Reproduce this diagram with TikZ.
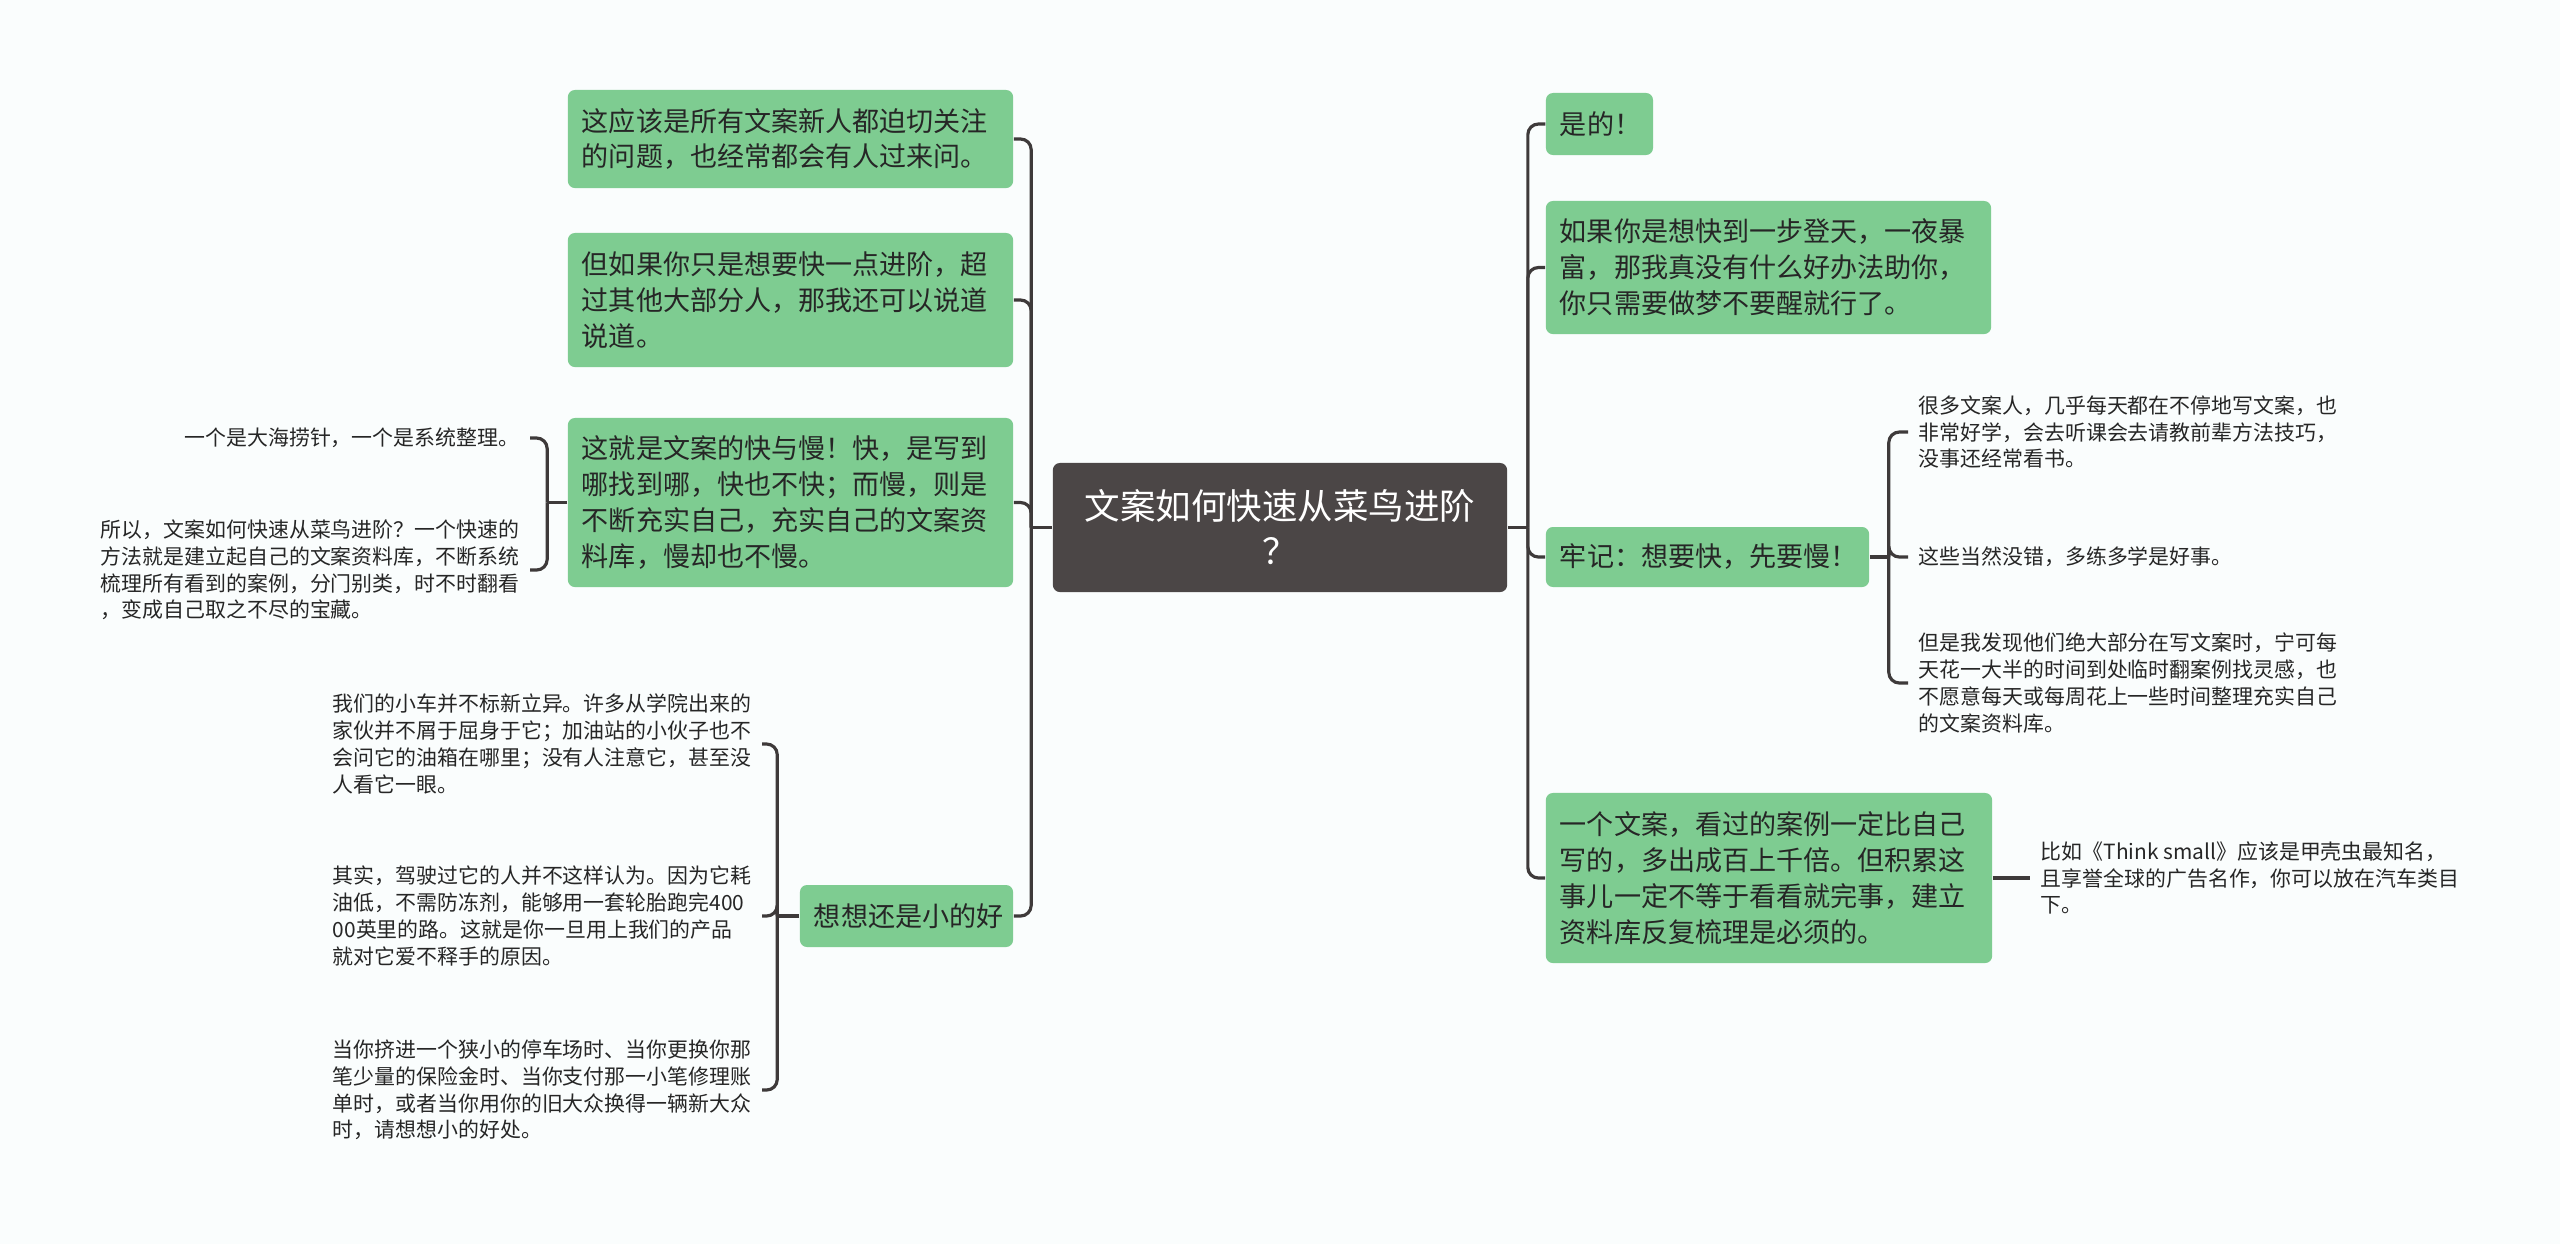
\documentclass[tikz,border=0pt]{standalone}
\usepackage{fontspec}
\setmainfont{Noto Sans CJK SC}
\usetikzlibrary{positioning, calc}
\definecolor{leafgreen}{RGB}{126,204,145}
\definecolor{rootgray}{RGB}{75,70,70}
\definecolor{linegray}{RGB}{62,58,58}
\definecolor{paper}{RGB}{250,253,253}
\tikzset{
  root/.style={rectangle, fill=rootgray, rounded corners=2pt,
               text=white, align=center,
               minimum width=4.54cm, minimum height=1.29cm,
               font=\fontsize{10.1pt}{12.8pt}\selectfont},
  sub/.style={rectangle, fill=leafgreen, rounded corners=2pt,
              align=left, inner xsep=0.14cm, text=black!85,
              font=\fontsize{7.7pt}{10.2pt}\selectfont},
  note/.style={align=left, inner xsep=0.1cm, text=black!85,
               font=\fontsize{5.95pt}{7.6pt}\selectfont},
  link/.style={draw=linegray, line width=0.9pt, rounded corners=3pt},
}

\begin{document}
\begin{tikzpicture}[x=0.01cm, y=-0.01cm]
  \fill[paper] (0,0) rectangle (2560,1244);
  \useasboundingbox (0,0) rectangle (2560,1244);

  \node[root] (root) at (1280,527.5) {文案如何快速从菜鸟进阶\\？};

  % left branches
  \node[sub, text width=4.17cm, minimum height=0.98cm] (ask) at (790.5,139)
    {这应该是所有文案新人都迫切关注\\的问题，也经常都会有人过来问。};
  \node[sub, text width=4.17cm, minimum height=1.34cm] (howto) at (790.5,300)
    {但如果你只是想要快一点进阶，超\\过其他大部分人，那我还可以说道\\说道。};
  \node[sub, text width=4.17cm, minimum height=1.69cm] (fastslow) at (790.5,502.5)
    {这就是文案的快与慢！快，是写到\\哪找到哪，快也不快；而慢，则是\\不断充实自己，充实自己的文案资\\料库，慢却也不慢。};
  \node[sub, text width=1.85cm, minimum height=0.62cm] (small) at (906.5,916)
    {想想还是小的好};

  % right branches
  \node[sub, text width=0.79cm, minimum height=0.62cm] (yes) at (1599.5,124)
    {是的！};
  \node[sub, text width=4.17cm, minimum height=1.33cm] (dream) at (1768.5,267.5)
    {如果你是想快到一步登天，一夜暴\\富，那我真没有什么好办法助你，\\你只需要做梦不要醒就行了。};
  \node[sub, text width=2.95cm, minimum height=0.60cm] (slow) at (1707.5,557)
    {牢记：想要快，先要慢！};
  \node[sub, text width=4.18cm, minimum height=1.70cm] (library) at (1769,878)
    {一个文案，看过的案例一定比自己\\写的，多出成百上千倍。但积累这\\事儿一定不等于看看就完事，建立\\资料库反复梳理是必须的。};

  % notes
  \node[note, anchor=east] (needle) at (530,438)
    {一个是大海捞针，一个是系统整理。};
  \node[note, anchor=east] (method) at (530,570)
    {所以，文案如何快速从菜鸟进阶？一个快速的\\方法就是建立起自己的文案资料库，不断系统\\梳理所有看到的案例，分门别类，时不时翻看\\，变成自己取之不尽的宝藏。};
  \node[note, anchor=east] (nobody) at (762,744)
    {我们的小车并不标新立异。许多从学院出来的\\家伙并不屑于屈身于它；加油站的小伙子也不\\会问它的油箱在哪里；没有人注意它，甚至没\\人看它一眼。};
  \node[note, anchor=east] (economy) at (762,916)
    {其实，驾驶过它的人并不这样认为。因为它耗\\油低，不需防冻剂，能够用一套轮胎跑完400\\00英里的路。这就是你一旦用上我们的产品\\就对它爱不释手的原因。};
  \node[note, anchor=east] (parking) at (762,1090)
    {当你挤进一个狭小的停车场时、当你更换你那\\笔少量的保险金时、当你支付那一小笔修理账\\单时，或者当你用你的旧大众换得一辆新大众\\时，请想想小的好处。};
  \node[note, anchor=west] (study) at (1908,432)
    {很多文案人，几乎每天都在不停地写文案，也\\非常好学，会去听课会去请教前辈方法技巧，\\没事还经常看书。};
  \node[note, anchor=west] (fine) at (1908,557)
    {这些当然没错，多练多学是好事。};
  \node[note, anchor=west] (busy) at (1908,683)
    {但是我发现他们绝大部分在写文案时，宁可每\\天花一大半的时间到处临时翻案例找灵感，也\\不愿意每天或每周花上一些时间整理充实自己\\的文案资料库。};
  \node[note, anchor=west] (thinksmall) at (2030,878)
    {比如《Think small》应该是甲壳虫最知名，\\且享誉全球的广告名作，你可以放在汽车类目\\下。};

  % connectors
  \coordinate (jl) at ($(root.west)+(-21,0)$);
  \coordinate (jr) at ($(root.east)+(20,0)$);
  \draw[link] (root.west) -- (jl);
  \draw[link] (root.east) -- (jr);
  \foreach \n in {ask, howto, fastslow, small}
    \draw[link] (jl) |- (\n.east);
  \foreach \n in {yes, dream, slow, library}
    \draw[link] (jr) |- (\n.west);

  \coordinate (jfs) at ($(fastslow.west)+(-20,0)$);
  \draw[link] (fastslow.west) -- (jfs);
  \foreach \n in {needle, method}
    \draw[link] (jfs) |- (\n.east);

  \coordinate (jsm) at ($(small.west)+(-22,0)$);
  \draw[link] (small.west) -- (jsm);
  \foreach \n in {nobody, economy, parking}
    \draw[link] (jsm) |- (\n.east);

  \coordinate (jsl) at ($(slow.east)+(19,0)$);
  \draw[link] (slow.east) -- (jsl);
  \foreach \n in {study, fine, busy}
    \draw[link] (jsl) |- (\n.west);

  \draw[link] (library.east) -- (thinksmall.west);

\end{tikzpicture}
\end{document}
